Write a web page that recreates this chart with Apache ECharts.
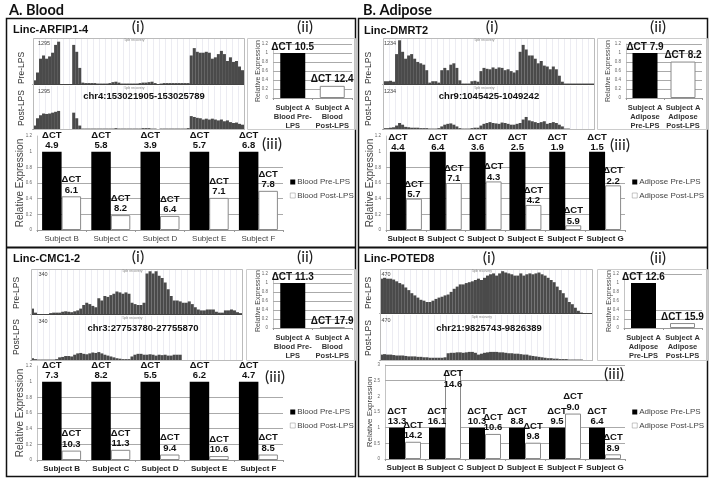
<!DOCTYPE html>
<html><head><meta charset="utf-8">
<style>html,body{margin:0;padding:0;background:#fff}#c{width:714px;height:483px}</style>
<script src="https://cdn.jsdelivr.net/npm/echarts@6/dist/echarts.min.js"></script></head>
<body><div id="c"></div>
<script>
// ---------- coverage tracks (percent of track height, 70 bins) ----------
const arfipTrackPre=[8,25,55,62,55,60,68,85,92,0,0,0,0,85,70,35,3,2,2,2,2,1,1,1,1,2,4,5,3,1,1,1,1,1,1,2,3,3,4,5,2,0,1,2,2,2,2,2,2,2,2,2,62,78,70,68,68,70,68,55,58,65,72,65,50,58,48,50,38,30];
const arfipTrackPost=[8,25,32,36,35,36,38,40,42,0,0,0,0,38,25,8,1,1,1,1,1,1,1,1,1,1,1,2,1,1,1,1,1,1,1,1,2,2,2,1,1,0,1,1,1,1,1,1,1,1,1,2,30,28,26,25,22,24,22,24,22,20,22,18,20,16,14,15,12,10];
const cmcTrackPre=[12,3,0,0,0,0,2,3,3,3,5,6,5,4,6,8,12,20,25,22,18,15,35,30,40,38,42,45,50,48,45,48,45,25,22,20,20,25,90,95,90,95,85,80,70,55,40,30,30,28,25,25,28,22,15,10,8,8,10,10,10,5,3,3,8,8,10,8,4,2];
const cmcTrackPost=[4,2,1,1,1,1,1,1,2,6,7,9,9,8,12,15,16,14,13,15,17,16,18,15,12,10,8,6,4,3,2,2,2,8,12,14,14,12,12,13,12,10,12,11,12,10,10,12,12,12,0,0,0,0,0,0,0,0,0,0,0,0,0,0,0,0,0,0,0,0];
const dmrtTrackPre=[6,6,7,5,65,95,70,55,62,65,55,48,45,42,30,3,6,6,3,30,35,30,42,45,35,8,1,1,1,6,7,5,28,35,33,32,36,33,36,35,30,32,28,25,30,70,85,75,62,62,55,45,50,40,38,32,38,32,18,5,1,1,1,1,1,1,1,1,1,1];
const dmrtTrackPost=[2,2,3,4,8,14,10,5,4,3,3,3,2,2,2,1,1,1,2,6,10,12,13,10,6,2,1,1,1,2,3,3,8,12,14,16,14,13,12,15,14,12,10,10,12,14,22,28,20,18,16,14,16,18,12,14,16,14,10,6,1,1,0,0,0,0,0,0,0,0];
const potedTrackPre=[78,80,78,78,76,72,68,65,58,52,45,40,35,30,28,25,25,28,32,35,37,40,42,48,55,60,65,65,68,70,72,75,78,75,80,85,88,90,85,90,95,92,90,88,85,85,90,85,88,90,88,90,92,88,85,80,75,70,60,52,45,35,25,20,12,5,1,0,0,0];
const potedTrackPost=[12,13,12,12,11,10,10,10,9,8,8,8,7,7,6,6,5,5,5,5,5,6,15,16,16,17,17,16,17,18,18,16,12,14,16,17,18,18,18,17,17,16,15,15,14,14,13,12,12,10,9,8,7,6,5,4,4,3,3,2,2,2,1,1,1,1,1,0,0,0];
const trackBins=Array.from({length:70},(_,i)=>i);

// ---------- panel (ii) values ----------
const iiCatsBlood=['Subject A\nBlood Pre-\nLPS','Subject A\nBlood\nPost-LPS'];
const iiCatsAdipose=['Subject A\nAdipose\nPre-LPS','Subject A\nAdipose\nPost-LPS'];
const arfipIiPre=[1,null],arfipIiPost=[null,0.27],arfipIiCt=['10.5','12.4'];
const cmcIiPre=[1,null],cmcIiPost=[null,0.01],cmcIiCt=['11.3','17.9'];
const dmrtIiPre=[1,null],dmrtIiPost=[null,0.81],dmrtIiCt=['7.9','8.2'];
const potedIiPre=[1,null],potedIiPost=[null,0.11],potedIiCt=['12.6','15.9'];

// ---------- panel (iii) values ----------
const bloodSubjects=['Subject B','Subject C','Subject D','Subject E','Subject F'];
const adiposeSubjects=['Subject B','Subject C','Subject D','Subject E','Subject F','Subject G'];
const arfipPre=[1,1,1,1,1],arfipPost=[0.43,0.19,0.18,0.41,0.50];
const arfipPreCt=['4.9','5.8','3.9','5.7','6.8'],arfipPostCt=['6.1','8.2','6.4','7.1','7.8'];
const cmcPre=[1,1,1,1,1],cmcPost=[0.12,0.13,0.07,0.05,0.07];
const cmcPreCt=['7.3','8.2','5.5','6.2','4.7'],cmcPostCt=['10.3','11.3','9.4','10.6','8.5'];
const dmrtPre=[1,1,1,1,1,1],dmrtPost=[0.40,0.60,0.62,0.32,0.06,0.57];
const dmrtPreCt=['4.4','6.4','3.6','2.5','1.9','1.5'],dmrtPostCt=['5.7','7.1','4.3','4.2','5.9','2.2'];
const potedPre=[1,1,1,1,1,1],potedPost=[0.55,2.83,0.80,0.52,1.45,0.15];
const potedPreCt=['13.3','16.1','10.3','8.8','9.5','6.4'],potedPostCt=['14.2','14.6','10.6','9.8','9.0','8.9'];
// gridlines that are visible in each kind of panel
const linesIi=[0.2,0.4,0.6,0.8,1,1.2],linesPotedIi=[0.2,0.4,1.2],linesIii=[0.2,0.4,0.6,0.8],linesPotedIii=[0.5,1,2.5,3];

// ---------- assembly ----------
const FONT='"Liberation Sans",Arial,sans-serif';
const grid=[],xAxis=[],yAxis=[],series=[],legend=[],graphic=[];
function text(t,x,y,o={}){graphic.push({type:'text',x,y,rotation:o.rot||0,z:50,silent:true,style:{
  text:t,fill:o.fill||'#111',font:`${o.weight||'normal'} ${o.size||10}px ${o.family||FONT}`,
  align:o.align||'center',verticalAlign:'middle'}});}
function frame(x,y,w,h,stroke,lw){graphic.push({type:'rect',z:40,silent:true,shape:{x,y,width:w,height:h},style:{fill:null,stroke,lineWidth:lw}});}

function addTrack(b,vals,scale){
  const i=grid.length;
  grid.push({left:b.x,top:b.y,width:b.w,height:b.h,containLabel:false});
  xAxis.push({type:'category',gridIndex:i,data:trackBins,axisTick:{show:false},axisLabel:{show:false},
    axisLine:{show:true,lineStyle:{color:'#444',width:1}},
    splitLine:{show:true,interval:1,lineStyle:{color:'#ececf2',width:1}}});
  yAxis.push({type:'value',gridIndex:i,min:0,max:100,show:false,splitLine:{show:false}});
  series.push({type:'bar',xAxisIndex:i,yAxisIndex:i,data:vals,barWidth:'100%',itemStyle:{color:'#4a4a4a'},silent:true});
  text(scale,b.sx,b.y+5,{size:5.5,fill:'#444'});
  text('5pb recovery',b.x+b.w/2-4,b.y+2,{size:3.5,fill:'#888'});
}
function addBars(b,cats,preName,postName,pre,post,preCt,postCt,opt){
  const i=grid.length;
  grid.push({left:b.x,top:b.y,width:b.w,height:b.h,containLabel:false});
  xAxis.push({type:'category',gridIndex:i,data:cats,
    axisTick:{show:true,length:2,lineStyle:{color:'#999'}},axisLine:{lineStyle:{color:'#999'}},
    axisLabel:{fontFamily:FONT,fontSize:opt.catSize,fontWeight:opt.catWeight,color:opt.catColor,margin:opt.catMargin,
      lineHeight:opt.catLine,interval:0}});
  yAxis.push({type:'value',gridIndex:i,min:0,max:opt.max,interval:opt.step,
    axisLine:{show:true,lineStyle:{color:'#c4c4c4'}},axisTick:{show:false},
    axisLabel:{fontSize:4.5,color:'#666',margin:5,fontFamily:FONT},
    splitLine:{show:false},
    name:'Relative Expression',nameLocation:'middle',nameGap:opt.nameGap,nameMoveOverlap:false,
    nameTextStyle:{fontSize:opt.nameSize,color:'#444',fontFamily:FONT}});
  const lab=(cts)=>({show:true,position:'top',distance:opt.dist,fontFamily:FONT,fontWeight:'bold',
    fontSize:opt.ctSize,color:'#111',lineHeight:10.5,
    formatter:p=>opt.oneLine?`ΔCT ${cts[p.dataIndex]}`:`ΔCT\n${cts[p.dataIndex]}`});
  const withOff=(vals,offs)=>vals.map((v,k)=>offs&&offs[k]?{value:v,label:{offset:offs[k]}}:v);
  series.push({type:'bar',name:preName,xAxisIndex:i,yAxisIndex:i,data:withOff(pre,opt.preOff),barWidth:opt.barW,barGap:opt.barGap,
    itemStyle:{color:'#000'},label:lab(preCt),silent:true,z:3,
    markLine:{silent:true,symbol:'none',z:1,label:{show:false},lineStyle:{color:'#aaa',width:1,type:'solid'},
      data:opt.lines.map(v=>({yAxis:v}))}});
  series.push({type:'bar',name:postName,xAxisIndex:i,yAxisIndex:i,data:withOff(post,opt.postOff),barWidth:opt.barW,barGap:opt.barGap,
    itemStyle:{color:'#fff',borderColor:'#8a8a8a',borderWidth:1},label:lab(postCt),silent:true,z:2});
}
function addLegend(x,y,names){
  legend.push({orient:'vertical',left:x,top:y,padding:0,itemWidth:5,itemHeight:5,itemGap:5.5,icon:'rect',selectedMode:false,
    data:names,itemStyle:{borderWidth:0.5},textStyle:{fontFamily:FONT,fontSize:8,color:'#444',padding:[0,0,0,-3]}});
}

// layout constants are kept apart from the value arrays
const iiOpt={max:1.2,step:0.2,catSize:7.5,catWeight:'bold',catColor:'#333',catMargin:5,catLine:9,nameGap:11,nameSize:7,ctSize:10,dist:1,oneLine:true,barW:25,barGap:'-100%',lines:linesIi};
const iiiA={max:1.2,step:0.2,catSize:8,catWeight:'normal',catColor:'#444',catMargin:5,nameGap:12,nameSize:10,ctSize:9.5,dist:1,barW:19.5,barGap:0,lines:linesIii};
const iiiB={...iiiA,barW:16};

// frames and headings
frame(6.5,18.5,349,458,'#111',1.5); frame(358.5,18.5,349,458,'#111',1.5);
graphic.push({type:'line',z:40,silent:true,shape:{x1:6,y1:247.5,x2:356,y2:247.5},style:{stroke:'#111',lineWidth:2}});
graphic.push({type:'line',z:40,silent:true,shape:{x1:358,y1:247.5,x2:708,y2:247.5},style:{stroke:'#111',lineWidth:2}});
const HEAD='Lato,"Open Sans",sans-serif';
text('A. Blood',9,10.5,{size:14.5,weight:'bold',align:'left',family:HEAD});
text('B. Adipose',363,10.5,{size:14.5,weight:'bold',align:'left',family:HEAD});
[['Linc-ARFIP1-4',13,30],['Linc-CMC1-2',13,259],['Linc-DMRT2',364,31],['Linc-POTED8',364,259]]
  .forEach(t=>text(t[0],t[1],t[2],{size:11,weight:'bold',align:'left'}));
[['(i)',138,27],['(ii)',305,27],['(iii)',272,144],['(i)',138,257],['(ii)',305,257],['(iii)',275,377],
 ['(i)',492,27],['(ii)',658,27],['(iii)',620,145],['(i)',489,258],['(ii)',658,258],['(iii)',614,374]]
  .forEach(t=>text(t[0],t[1],t[2],{size:16,family:HEAD,fill:'#222'}));
[['chr4:153021905-153025789',144,96],['chr3:27753780-27755870',143,328],['chr9:1045425-1049242',489,96],['chr21:9825743-9826389',489,328]]
  .forEach(t=>text(t[0],t[1],t[2],{size:9.5,weight:'bold'}));
[['Pre-LPS',22,68],['Post-LPS',22,108],['Pre-LPS',17,293],['Post-LPS',17,337],['Pre-LPS',369,68],['Post-LPS',369,108],['Pre-LPS',369,293],['Post-LPS',369,338]]
  .forEach(t=>text(t[0],t[1],t[2],{size:8.5,rot:Math.PI/2,fill:'#333'}));
[[33,38,211,91],[31,269,211,91],[383,38,211,91],[380,269,212,91]].forEach(b=>frame(b[0]+.5,b[1]+.5,b[2],b[3],'#bbb',1));
[[247,38,108,91],[246,269,109,91],[597,38,110,91],[597,269,110,91]].forEach(b=>frame(b[0]+.5,b[1]+.5,b[2],b[3],'#ccc',1));

// tracks
addTrack({x:33,y:38,w:211,h:46,sx:44},arfipTrackPre,'1295');
addTrack({x:33,y:86,w:211,h:43,sx:44},arfipTrackPost,'1295');
addTrack({x:31,y:269,w:211,h:45,sx:43},cmcTrackPre,'340');
addTrack({x:31,y:316,w:211,h:44,sx:43},cmcTrackPost,'340');
addTrack({x:383,y:38,w:211,h:46,sx:390},dmrtTrackPre,'1234');
addTrack({x:383,y:86,w:211,h:43,sx:390},dmrtTrackPost,'1234');
addTrack({x:380,y:269,w:212,h:44,sx:386},potedTrackPre,'470');
addTrack({x:380,y:315,w:212,h:45,sx:386},potedTrackPost,'470');

// panels (ii)
addBars({x:273,y:44,w:79,h:54},iiCatsBlood,'s','s2',arfipIiPre,arfipIiPost,arfipIiCt,arfipIiCt,iiOpt);
addBars({x:273,y:274,w:79,h:54},iiCatsBlood,'s','s2',cmcIiPre,cmcIiPost,cmcIiCt,cmcIiCt,iiOpt);
addBars({x:626,y:44,w:76,h:54},iiCatsAdipose,'s','s2',dmrtIiPre,dmrtIiPost,dmrtIiCt,dmrtIiCt,{...iiOpt,nameGap:14});
addBars({x:624,y:274,w:78,h:54},iiCatsAdipose,'s','s2',potedIiPre,potedIiPost,potedIiCt,potedIiCt,{...iiOpt,lines:linesPotedIi});

// panels (iii)
addBars({x:37,y:136,w:246,h:94},bloodSubjects,'Blood Pre-LPS','Blood Post-LPS',arfipPre,arfipPost,arfipPreCt,arfipPostCt,iiiA);
addBars({x:37,y:366,w:246,h:94},bloodSubjects,'Blood Pre-LPS','Blood Post-LPS',cmcPre,cmcPost,cmcPreCt,cmcPostCt,{...iiiA,catWeight:'bold',catColor:'#222'});
addBars({x:386,y:136,w:239,h:94},adiposeSubjects,'Adipose Pre-LPS','Adipose Post-LPS',dmrtPre,dmrtPost,dmrtPreCt,dmrtPostCt,{...iiiB,catWeight:'bold',catColor:'#222',nameGap:11,dist:-1});
addBars({x:385,y:365,w:240,h:94},adiposeSubjects,'Adipose Pre-LPS','Adipose Post-LPS',potedPre,potedPost,potedPreCt,potedPostCt,
  {...iiiB,max:3,step:0.5,catWeight:'bold',catColor:'#222',nameGap:11,nameSize:8,lines:linesPotedIii,postOff:[null,[0,20]]});

addLegend(290,178,['Blood Pre-LPS','Blood Post-LPS']);
addLegend(290,408,['Blood Pre-LPS','Blood Post-LPS']);
addLegend(632,178,['Adipose Pre-LPS','Adipose Post-LPS']);
addLegend(632,408,['Adipose Pre-LPS','Adipose Post-LPS']);

const chart=echarts.init(document.getElementById('c'),null,{renderer:'canvas'});
chart.setOption({animation:false,backgroundColor:'#fff',grid,xAxis,yAxis,series,legend,graphic:{elements:graphic}});
</script></body></html>
